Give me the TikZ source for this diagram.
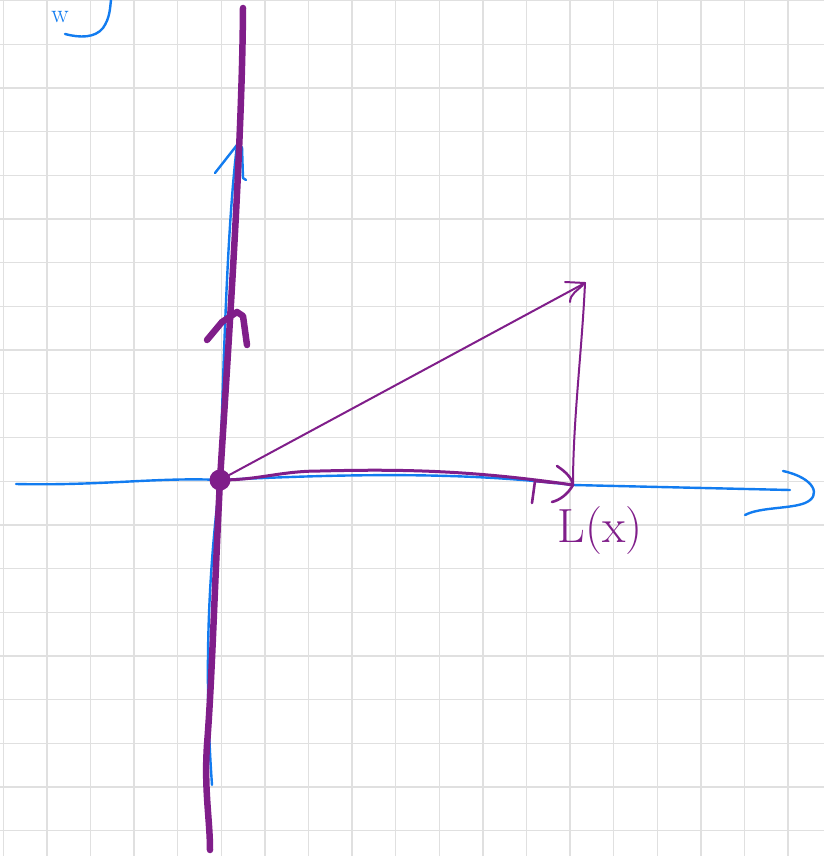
\documentclass[tikz,border=0pt]{standalone}
\usepackage{tikz}
\definecolor{inkblue}{RGB}{18,124,240}
\definecolor{inkpurple}{RGB}{128,30,138}
\definecolor{gridgray}{RGB}{224,224,224}
\tikzset{
  pen/.style={line width=2.4pt, line cap=round, line join=round},
  bluepen/.style={pen, draw=inkblue},
  purplepen/.style={pen, draw=inkpurple},
  heavypen/.style={purplepen, line width=6.5pt},
  gridline/.style={draw=gridgray, line width=1.3pt},
  handtext/.style={inner sep=0pt, font=\fontsize{48}{54}\selectfont}
}

\begin{document}
\begin{tikzpicture}[x=1pt, y=-1pt]
\useasboundingbox (0,0) rectangle (824,856);
\clip (0,0) rectangle (824,856);
\fill[white] (0,0) rectangle (824,856);

% squared paper
\foreach \i in {0,...,18}
  \draw[gridline] (3.3+43.6*\i,0) -- (3.3+43.6*\i,856);
\foreach \j in {0,...,19}
  \draw[gridline] (0,0.5+43.7*\j) -- (824,0.5+43.7*\j);

% points
\coordinate (O) at (220,480);
\coordinate (xend) at (790,490);
\coordinate (xstart) at (16,484);
\coordinate (ytip) at (237,145);
\coordinate (ystart) at (212,785);
\coordinate (Lx) at (573,485);
\coordinate (P) at (585,283);
\coordinate (vtip) at (237,312);

% blue axes
\draw[bluepen] (xstart) .. controls (100,486) and (160,477) .. (O)
  .. controls (380,472) and (480,474) .. (Lx) -- (xend);
\draw[bluepen] (783,471) .. controls (815,478) and (822,496) .. (805,503)
  .. controls (790,509) and (760,507) .. (745,515);
\draw[bluepen] (ystart) .. controls (206,700) and (205,600) .. (O)
  .. controls (224,340) and (228,220) .. (ytip);
\draw[bluepen] (215,173) -- (ytip);
\draw[bluepen] (242,147) -- (243,178) -- (246,180);

% blue w)
\node[inner sep=0pt, font=\fontsize{26}{30}\selectfont, text=inkblue, anchor=base]
  (wlabel) at (60,23) {w};
\draw[bluepen] (65,34) .. controls (80,38) and (95,38) .. (103,28)
  .. controls (110,18) and (110,8) .. (111,0);

% heavy purple line
\draw[heavypen] (243,8) .. controls (242,150) and (228,350) .. (O)
  .. controls (214,600) and (212,680) .. (207,745)
  .. controls (204,790) and (210,820) .. (210,850);
\draw[heavypen] (207,340) -- (222,322) -- (vtip) -- (243,316) -- (247,345);
\fill[inkpurple] (O) circle (10.5);

% purple triangle
\draw[purplepen, line width=2pt] (O) -- (P);
\draw[purplepen, line width=2pt] (565,282) -- (P);
\draw[purplepen, line width=2pt] (570,302) .. controls (570,294) and (578,290) .. (583,285);
\draw[purplepen, line width=2pt] (P) .. controls (582,350) and (573,420) .. (Lx);
\draw[purplepen, line width=3pt] (O) .. controls (260,480) and (280,471) .. (320,471)
  .. controls (400,469) and (470,470) .. (Lx);
\draw[purplepen, line width=2.6pt] (557,466) .. controls (566,472) and (572,478) .. (Lx)
  .. controls (568,494) and (560,500) .. (552,502);
\draw[purplepen, line width=2.6pt] (532,503) -- (535,481) -- (555,483);

\node[handtext, text=inkpurple, anchor=north] (Llabel) at (600,506) {L(x)};
\end{tikzpicture}
\end{document}
